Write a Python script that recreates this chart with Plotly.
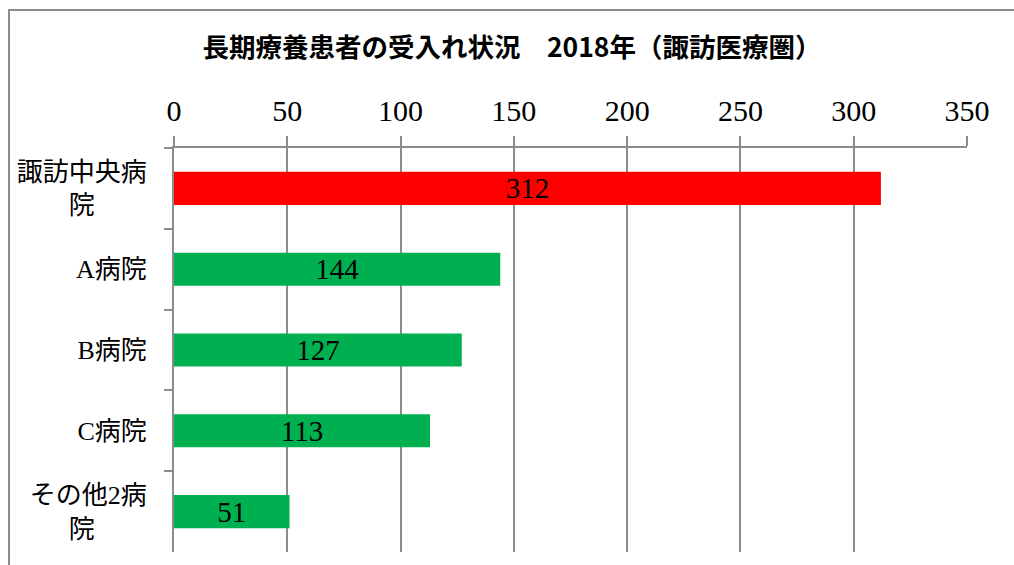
import plotly.graph_objects as go

categories = ["諏訪中央病<br>院　　", "A病院", "B病院", "C病院", "その他2病<br>院　　"]
values = [312, 144, 127, 113, 51]
bar_colors = ["#FF0000", "#00B050", "#00B050", "#00B050", "#00B050"]
x_ticks = [0, 50, 100, 150, 200, 250, 300, 350]
title_text = "<b>長期療養患者の受入れ状況　2018年（諏訪医療圏）</b>"

W, H = 1014, 565
L, R, T, B = 174, 47, 148, 13
pw, ph = W - L - R, H - T - B

serif = "Liberation Serif, Noto Sans CJK JP, serif"
grid = "#8C8C8C"

fig = go.Figure(go.Bar(
    x=values, y=categories, orientation="h",
    marker=dict(color=bar_colors, line=dict(width=0)),
    text=[str(v) for v in values], textposition="inside", textangle=0,
    insidetextanchor="middle", constraintext="none",
    textfont=dict(family=serif, size=29, color="black"),
    width=0.41,
))

fig.update_layout(
    width=W, height=H,
    margin=dict(l=L, r=R, t=T, b=B, pad=0),
    paper_bgcolor="white", plot_bgcolor="white",
    showlegend=False,
    uniformtext=dict(minsize=29, mode="show"),
    title=dict(text=title_text, x=(512 - L) / pw, xref="paper", xanchor="center",
               y=1 - 48 / H, yref="container", yanchor="middle",
               font=dict(family="Noto Sans CJK JP, sans-serif", size=26.5, color="black")),
    xaxis=dict(side="top", range=[0, 350], tickvals=x_ticks, ticktext=[str(t) for t in x_ticks],
               showgrid=True, gridcolor=grid, gridwidth=2,
               showline=True, linecolor=grid, linewidth=2,
               ticks="outside", ticklen=10, tickwidth=2, tickcolor=grid,
               ticklabelstandoff=3,
               tickfont=dict(family=serif, size=30, color="black"),
               zeroline=False, fixedrange=True),
    yaxis=dict(autorange="reversed", type="category",
               showline=True, linecolor=grid, linewidth=2,
               ticks="outside", ticklen=8, tickwidth=2, tickcolor=grid,
               tickson="boundaries", showgrid=False,
               ticklabelstandoff=20,
               tickfont=dict(family=serif, size=26, color="black"),
               fixedrange=True),
    shapes=[dict(type="rect", xref="paper", yref="paper",
                 x0=(9 - L) / pw, x1=(W + 40 - L) / pw,
                 y0=-(B + 40) / ph, y1=1 + (T - 10) / ph,
                 line=dict(color="#8C8C8C", width=2), layer="below")],
)

fig.write_html("out.html")
